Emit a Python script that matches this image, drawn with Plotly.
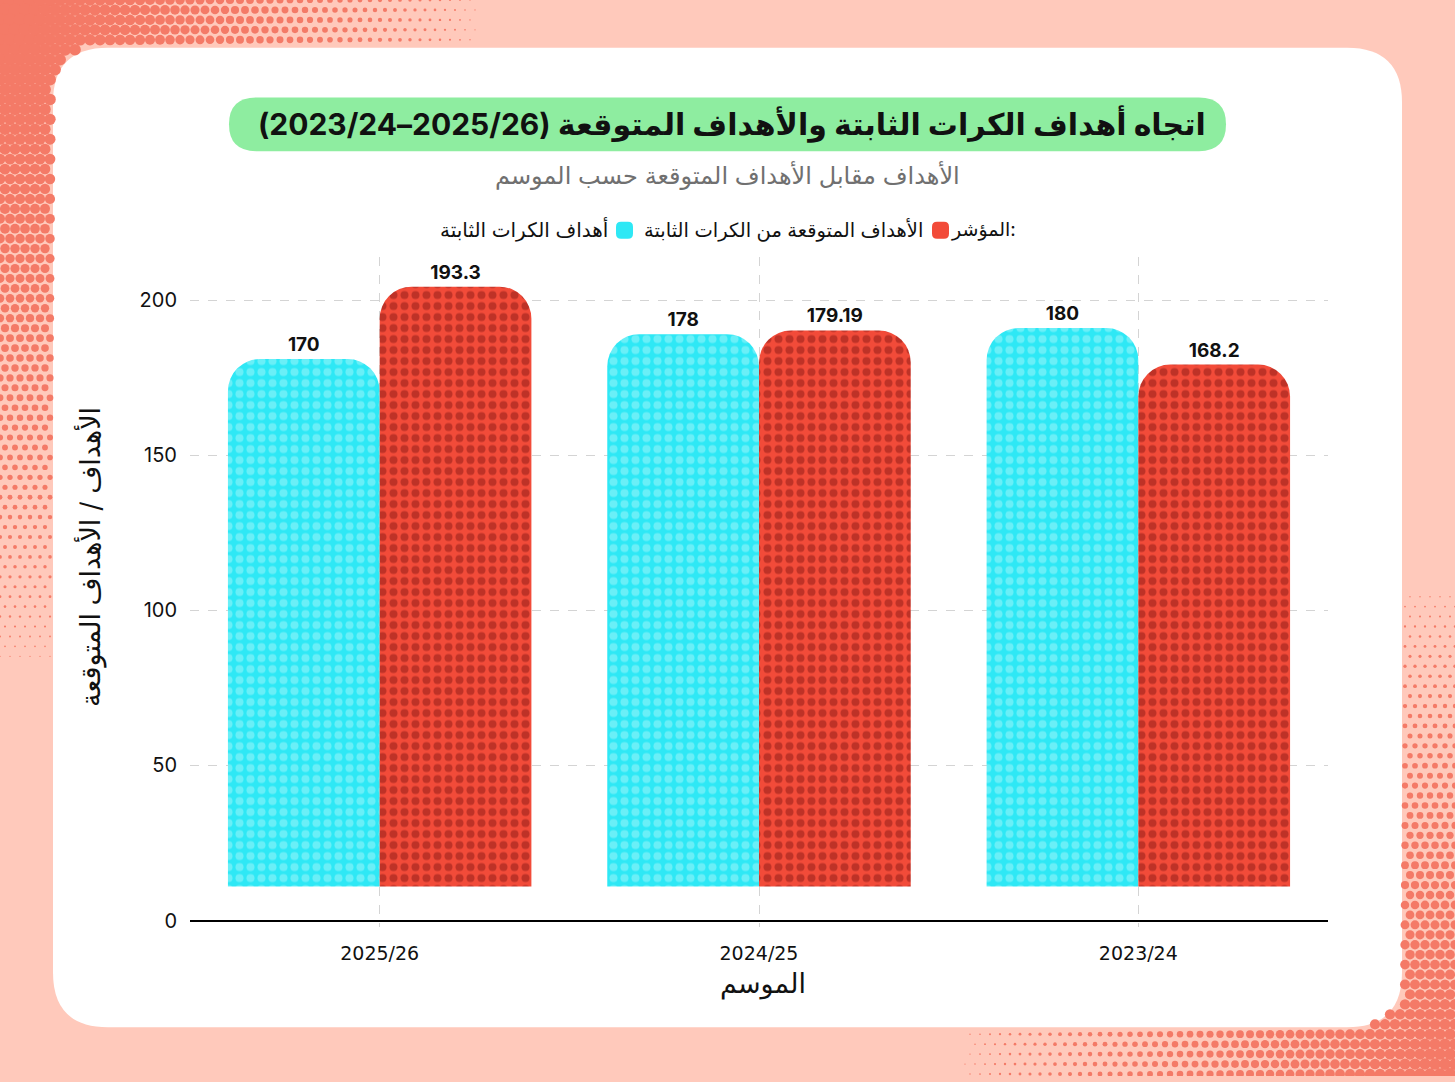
import numpy as np
import plotly.graph_objects as go

# ---- data ----
seasons = ["2025/26", "2024/25", "2023/24"]
setpiece_goals = [170, 178, 180]
setpiece_xg = [193.3, 179.19, 168.2]

name_goals = "أهداف الكرات الثابتة"
name_xg = "الأهداف المتوقعة من الكرات الثابتة"

W, H = 1455, 1082
BAR_LIFT = 11   # the bars float a little above the zero line in the original

CYAN = "#2EE8F5"
CYAN_LIGHT = "#A6F5FA"
RED = "#F24B39"
RED_DARK = "#8A1A15"
SALMON = "#FFC9BB"
CORAL = "#F47A67"

FONT_AR = "Inter, DejaVu Sans, sans-serif"


def rounded_rect(x0, y0, x1, y1, r):
    # path in pixel coords of the background axes (y goes down)
    return (f"M {x0 + r},{y0} L {x1 - r},{y0} Q {x1},{y0} {x1},{y0 + r} "
            f"L {x1},{y1 - r} Q {x1},{y1} {x1 - r},{y1} L {x0 + r},{y1} "
            f"Q {x0},{y1} {x0},{y1 - r} L {x0},{y0 + r} Q {x0},{y0} {x0 + r},{y0} Z")


# card position
CX0, CY0, CX1, CY1, CR = 53, 48, 1402, 1033, 55

# ---- halftone dots in the page corners (decoration only) ----
gy, gx = np.mgrid[0:H + 10:10, 0:W + 10:10].astype(float)
gx = gx + (np.arange(gx.shape[0])[:, None] % 2) * 5
d1 = np.sqrt((gx / 500.0) ** 2 + (gy / 700.0) ** 2)
d2 = np.sqrt(((W - gx) / 520.0) ** 2 + ((H - gy) / 520.0) ** 2)
dot_size = np.maximum(13.5 * np.clip(1 - d1, 0, 1) ** 0.8, 12.0 * np.clip(1 - d2, 0, 1) ** 0.8)

inside = (gx > CX0 - 3) & (gx < CX1 + 3) & (gy > CY0 - 3) & (gy < CY1 + 3)
# corners of the card are rounded: points there outside the arc are not inside
for cx, cy in [(CX0 + CR, CY0 + CR), (CX1 - CR, CY0 + CR), (CX0 + CR, CY1 - CR), (CX1 - CR, CY1 - CR)]:
    in_box = (np.abs(gx - cx) <= CR + 3) & (np.abs(gy - cy) <= CR + 3)
    beyond = ((gx - cx) * np.sign(cx - W / 2) > 0) & ((gy - cy) * np.sign(cy - H / 2) > 0)
    far = np.hypot(gx - cx, gy - cy) > CR + 3
    inside &= ~(in_box & beyond & far)
keep = (dot_size > 1.2) & ~inside

fig = go.Figure()

fig.add_trace(go.Scatter(
    x=gx[keep], y=gy[keep], mode="markers",
    marker=dict(size=dot_size[keep], color=CORAL, opacity=1, line=dict(width=0)),
    hoverinfo="skip", showlegend=False, xaxis="x", yaxis="y",
))

# ---- bars: an invisible lift + the value, stacked per offset group ----
label_font = dict(family="Inter, sans-serif", size=19, color="#111111", weight=700)
for vals, name, col, dots, grp in [
    (setpiece_goals, name_goals, CYAN, CYAN_LIGHT, "goals"),
    (setpiece_xg, name_xg, RED, RED_DARK, "xg"),
]:
    fig.add_trace(go.Bar(
        x=seasons, y=[BAR_LIFT] * len(seasons), offsetgroup=grp,
        marker=dict(color="rgba(0,0,0,0)", line=dict(width=0)),
        hoverinfo="skip", showlegend=False, xaxis="x2", yaxis="y2",
    ))
    fig.add_trace(go.Bar(
        x=seasons, y=vals, name=name, offsetgroup=grp,
        marker=dict(color=col, cornerradius=32, line=dict(width=0),
                    pattern=dict(shape=".", size=11, solidity=0.42, fgcolor=dots)),
        texttemplate="%{y}", textposition="outside", cliponaxis=False,
        textfont=label_font,
        xaxis="x2", yaxis="y2", showlegend=False,
    ))

shapes = [
    dict(type="path", xref="x", yref="y", path=rounded_rect(CX0, CY0, CX1, CY1, CR),
         fillcolor="white", line=dict(width=0), layer="below"),
    dict(type="path", xref="x", yref="y", path=rounded_rect(229, 98, 1226, 152, 27),
         fillcolor="#8EEDA0", line=dict(width=0), layer="below"),
    # legend swatches
    dict(type="path", xref="x", yref="y", path=rounded_rect(932, 223, 949, 240, 5),
         fillcolor=RED, line=dict(width=0), layer="above"),
    dict(type="path", xref="x", yref="y", path=rounded_rect(616, 223, 633, 240, 5),
         fillcolor=CYAN, line=dict(width=0), layer="above"),
]

annotations = [
    dict(text="اتجاه أهداف الكرات الثابتة والأهداف المتوقعة (2025/26–2023/24)",
         x=732, y=125, font=dict(family=FONT_AR, size=30, color="#111111", weight=700)),
    dict(text="الأهداف مقابل الأهداف المتوقعة حسب الموسم",
         x=727, y=176, font=dict(family=FONT_AR, size=24, color="#707070")),
    dict(text="المؤشر:", x=1018, y=231, xanchor="right",
         font=dict(family=FONT_AR, size=19, color="#111111")),
    dict(text=name_xg, x=925, y=231, xanchor="right",
         font=dict(family=FONT_AR, size=19.5, color="#111111")),
    dict(text=name_goals, x=610, y=231, xanchor="right",
         font=dict(family=FONT_AR, size=20, color="#111111")),
    dict(text="الموسم", x=763, y=989,
         font=dict(family=FONT_AR, size=27, color="#111111")),
    dict(text="الأهداف / الأهداف المتوقعة", x=90, y=560, textangle=-90,
         font=dict(family=FONT_AR, size=27, color="#111111")),
]
for a in annotations:
    a.update(xref="x", yref="y", showarrow=False)
    a.setdefault("xanchor", "center")
    a["yanchor"] = "middle"

fig.update_layout(
    width=W, height=H,
    margin=dict(l=0, r=0, t=0, b=0),
    paper_bgcolor=SALMON,
    plot_bgcolor="rgba(0,0,0,0)",
    barmode="relative", bargap=0.2, bargroupgap=0,
    showlegend=False,
    shapes=shapes,
    annotations=annotations,
    xaxis=dict(domain=[0, 1], range=[0, W], visible=False, fixedrange=True),
    yaxis=dict(domain=[0, 1], range=[H, 0], visible=False, fixedrange=True),
    xaxis2=dict(
        domain=[190 / W, 1328 / W], anchor="y2", type="category",
        showgrid=True, gridcolor="#D4D4D4", griddash="dash", gridwidth=1,
        showline=False, ticks="", ticklabelstandoff=13,
        tickfont=dict(family="DejaVu Sans, sans-serif", size=19, color="#111111"),
    ),
    yaxis2=dict(
        domain=[1 - 932 / H, 1 - 258 / H], anchor="x2", range=[-2, 214],
        tickvals=[0, 50, 100, 150, 200],
        showgrid=True, gridcolor="#D4D4D4", griddash="dash", gridwidth=1,
        zeroline=True, zerolinecolor="#000000", zerolinewidth=2,
        showline=False, ticks="", ticklabelstandoff=12,
        tickfont=dict(family="Inter, sans-serif", size=20, color="#111111"),
    ),
)

fig.write_html("out.html", config={"displayModeBar": False},
               post_script="document.body.style.margin='0';")
